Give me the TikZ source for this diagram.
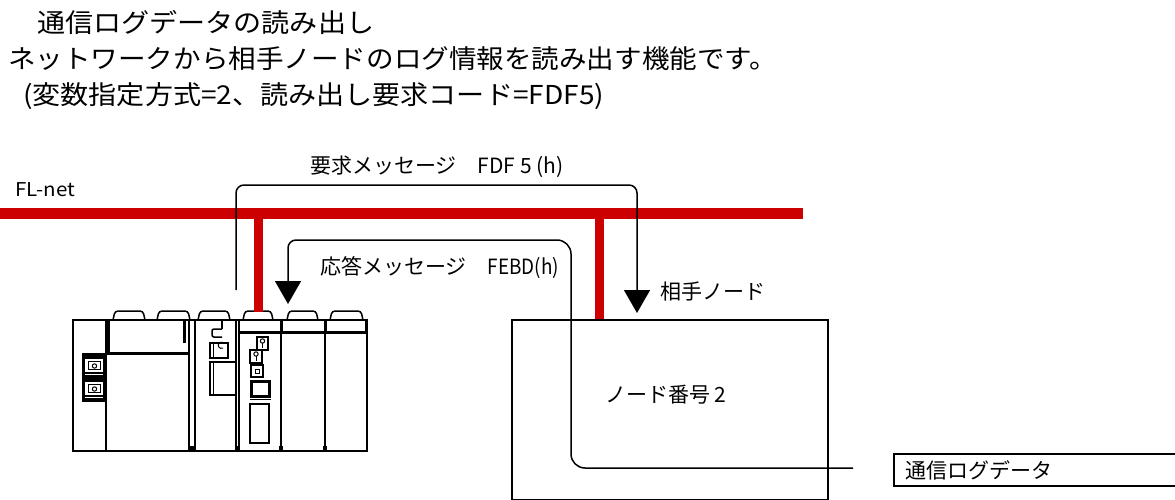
\documentclass[tikz,border=0pt]{standalone}
\usepackage{fontspec}
\setmainfont{Noto Sans CJK JP}
\usetikzlibrary{arrows.meta}
\definecolor{busred}{HTML}{CC0000}

\tikzset{
  txt/.style={inner sep=0pt, anchor=west, font=\fontsize{21}{21}\selectfont},
  head/.style={inner sep=0pt, anchor=west, font=\fontsize{26}{26}\selectfont},
  msg/.style={line width=1.5pt, -{Triangle[width=26pt,length=23pt]}},
  bus/.style={busred, line width=11pt},
  drop/.style={busred, line width=9pt},
  frame/.style={draw, line width=1.5pt, fill=white, inner sep=0pt, anchor=north west},
  plc/.style={line width=1.5pt},
  plcthick/.style={line width=3pt},
}

% rounded tab on top of a PLC module
\newcommand\plctab[2]{\draw[plc, fill=white, rounded corners=3pt] (#1,320) -- (#1+2,311) -- (#2-2,311) -- (#2,320);}
% small key-shaped indicator
\newcommand\plckey[4]{%
  \draw[plc, fill=white] (#1,#2) rectangle (#3,#4);
  \draw[line width=1pt] ({(#1+#3)/2},{#2+4}) circle (2.2);
  \draw[line width=1pt] ({(#1+#3)/2},{#2+6.2}) -- ({(#1+#3)/2},{#4-2.5});}
% white port icon on the black block
\newcommand\plcport[1]{%
  \fill[white] (85,#1) rectangle (103,#1+13);
  \draw[line width=1pt] (88,#1+2.5) rectangle (100,#1+10.5);
  \draw[line width=1pt] (94.5,#1+7) circle (2.2);
  \fill[white] (85,#1+14.5) rectangle (103,#1+16);}

\begin{document}
\begin{tikzpicture}[x=1pt,y=-1pt]
\clip (0,0) rectangle (1175,500);
\fill[white] (0,0) rectangle (1175,500);

% ---- heading text
\node[head] (title) at (37,22) {\scalebox{1.08}[1]{通信ログデータの読み出し}};
\node[head] (desc) at (8,59) {\scalebox{1.06}[1]{ネットワークから相手ノードのログ情報を読み出す機能です。}};
\node[head] (param) at (23,96) {\scalebox{1.08}[1]{(変数指定方式=2、読み出し要求コード=FDF5)}};

% ---- FL-net bus
\node[txt, font=\fontsize{19}{19}\selectfont] (flnet) at (15,190) {\scalebox{1.08}[1]{FL-net}};
\coordinate (busL) at (0,213);
\coordinate (busR) at (803,213);
\draw[bus] (busL) -- (busR);
\coordinate (tap1) at (258,213);
\coordinate (tap2) at (599,213);
\coordinate (plctap) at (258,312);

% ---- PLC rack
\plctab{113}{145}
\plctab{157}{190}
\plctab{198}{230}
\plctab{243}{273}
\plctab{287}{318}
\plctab{330}{363}
\draw[plc, fill=white] (73,320) rectangle (367,451);
% power module
\draw[plc] (106,320) -- (106,451);
\draw[plcthick] (108.5,320) -- (108.5,353);
\draw[plcthick] (106,353) -- (190,353);
\draw[plcthick] (184,320) -- (184,343);
\draw[plc] (189,320) -- (189,451);
\draw[plc] (195,320) -- (195,451);
% port block
\fill (82,353) rectangle (105,402);
\plcport{359}
\plcport{382}
% module 3
\draw[plc] (222,320) -- (222,329);
\draw[plc, rounded corners=2pt] (222,329) -- (212,329) -- (212,337) -- (222,337);
\draw[plc, fill=white] (210,343) rectangle (228,358);
\draw[line width=1pt] (213,343) -- (213,358);
\draw[line width=1pt] (223,348) arc (60:300:3.2);
\draw[plc] (210,362) rectangle (236,395);
\draw[plc] (213.5,362) -- (213.5,395);
\draw[plc] (236,320) -- (236,451);
\draw[plc] (239,320) -- (239,451);
% modules 4-6 with header band
\draw[plcthick] (239,332) -- (367,332);
\draw[plcthick] (281,320) -- (281,333);
\draw[plc] (281,333) -- (281,451);
\draw[plcthick] (325,320) -- (325,333);
\draw[plc] (325,333) -- (325,451);
\draw[plcthick] (366,320) -- (366,333);
% FL-net module indicators
\plckey{257}{337}{268}{350}
\plckey{250}{350}{262}{363}
\draw[plc, fill=white] (251,365) rectangle (263,377);
\draw[line width=1pt] (255,369) rectangle (259,373);
\draw[plcthick] (251.5,381.5) rectangle (269.5,396);
\draw[plc] (250,399.5) -- (271,399.5);
\draw[plc] (250,404) rectangle (269,443);
% feet
\foreach \fx in {192,237.5,281,325} \fill (\fx-1.8,446) rectangle (\fx+1.8,451);

\draw[drop] (tap1) -- (plctap);

% ---- partner node
\node[frame, minimum width=316pt, minimum height=180pt] (peer) at (511,319) {};
\draw[drop] (tap2) -- (tap2 |- peer.north);
\node[txt] (peerlbl) at (660,292) {相手ノード};
\node[txt] (nodeno) at (605,395) {ノード番号 2};

% ---- log data field
\node[frame, minimum width=300pt, minimum height=32pt] (logbox) at (893,453) {};
\node[txt] (logtxt) at (905,470) {通信ログデータ};

% ---- request message
\coordinate (reqstart) at (236,290);
\coordinate (reqend) at (637,313);
\draw[msg, rounded corners=8pt] (reqstart) -- ++(0,-105) -| (reqend);
\node[txt] (reqlbl) at (310,167) {要求メッセージ　FDF 5 (h)};

% ---- response message
\coordinate (logsrc) at (853,468);
\coordinate (resptop) at (571,240);
\coordinate (respend) at (288,304);
\draw[msg] (logsrc) [rounded corners=14pt] -| (resptop) [rounded corners=8pt] -| (respend);
\node[txt] (reslbl) at (320,268) {応答メッセージ　\scalebox{0.9}[1]{FEBD(h)}};
\end{tikzpicture}
\end{document}
